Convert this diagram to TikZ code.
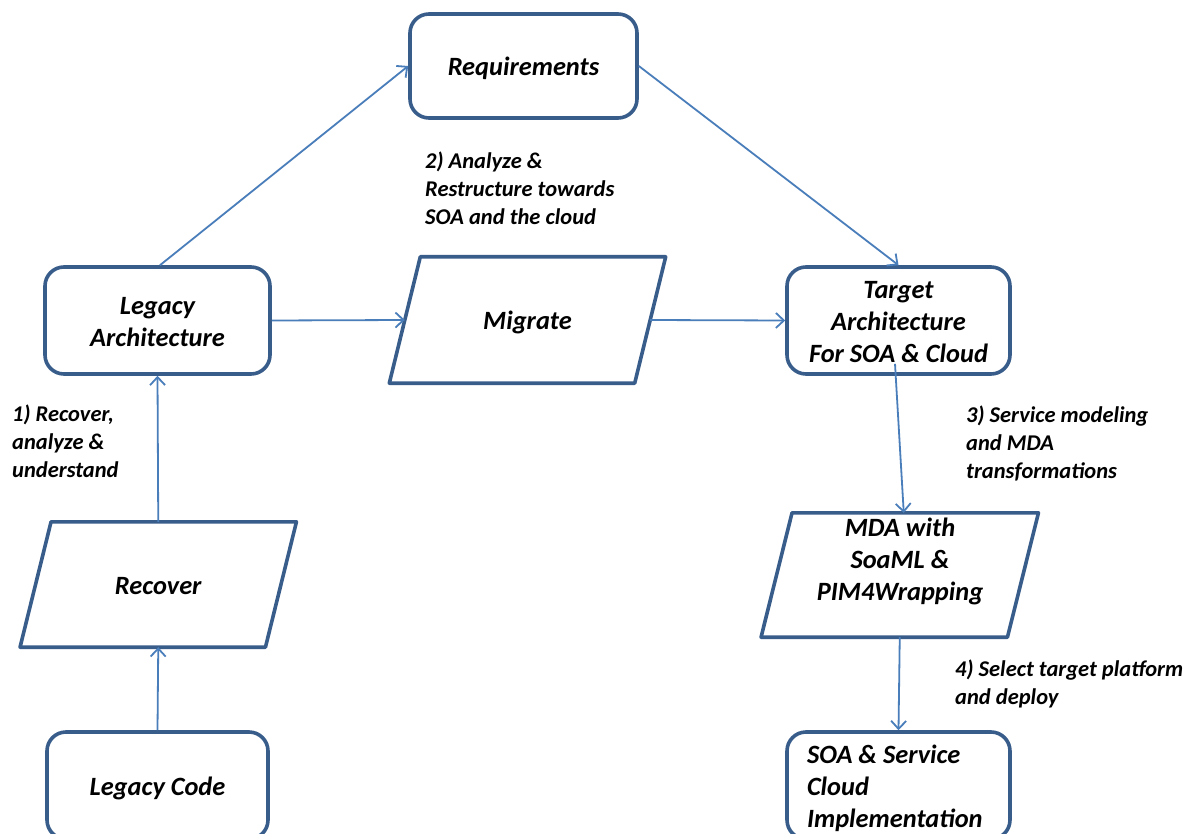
\documentclass[tikz,border=0pt]{standalone}
\usepackage{fontspec}
\setmainfont{Carlito}
\usetikzlibrary{arrows.meta,calc}
\definecolor{boxline}{RGB}{56,93,138}
\definecolor{flowline}{RGB}{74,126,187}
\newcommand\diagboxfont{\fontsize{26.4}{32}\selectfont\bfseries\itshape}
\newcommand\diagnotefont{\fontsize{22.5}{28}\selectfont\bfseries\itshape}
% fixed struts on the first and last line, so every box sets its text on the same grid
\newcommand\firststrut{\rule{0pt}{24pt}}
\newcommand\laststrut{\rule[-5pt]{0pt}{5pt}}
\begin{document}
\begin{tikzpicture}[x=1pt,y=-1pt,
  roundbox/.style={draw=boxline, line width=3.6pt, rounded corners=19pt,
    fill=white, align=center, font=\diagboxfont, inner sep=0pt,
    minimum width=224pt, minimum height=107pt},
  slantbox/.style={align=center, font=\diagboxfont, inner sep=0pt,
    minimum width=245pt, minimum height=125pt},
  slantframe/.style={draw=boxline, line width=3.6pt, line join=round},
  flow/.style={draw=flowline, line width=1.8pt,
    -{Straight Barb[length=8pt,width=15pt]}},
  note/.style={align=left, font=\diagnotefont, anchor=west, inner sep=0pt}]

% canvas
\clip (0,0) rectangle (1193,834);
\fill[white] (0,0) rectangle (1193,834);

% rounded boxes
\node[roundbox, minimum width=227pt, minimum height=104pt] (req) at (523.5,66)
  {\firststrut Requirements\laststrut};
\node[roundbox, minimum width=225pt] (larch) at (157.5,320.5)
  {\firststrut Legacy\\Architecture\laststrut};
\node[roundbox, minimum width=223pt] (tgt) at (898.5,320.5)
  {\firststrut Target\\Architecture\\For SOA \& Cloud\laststrut};
\node[roundbox, minimum width=221pt] (lcode) at (157.5,785.5)
  {\firststrut Legacy Code\laststrut};
\node[roundbox, minimum width=223pt, text width=183pt, align=flush left] (soa) at (898.5,785.5)
  {\firststrut SOA \& Service\\Cloud\\Implementation\laststrut};

% slanted boxes
\node[slantbox, minimum height=126pt] (mig) at (527.5,320) {\firststrut Migrate\laststrut};
\node[slantbox] (rec) at (158.25,584.5) {\firststrut Recover\laststrut};
\node[slantbox, minimum width=246pt, minimum height=124pt] (mda) at (899.75,575) {};
\node[align=center, font=\diagboxfont, inner sep=0pt] (mdatext) at (900,561.5)
  {MDA with\\SoaML \&\\PIM4Wrapping};

\foreach \n in {mig,rec,mda}{
  \draw[slantframe] ($(\n.north west)+(15.5,0)$) -- ($(\n.north east)+(15.5,0)$)
    -- ($(\n.south east)+(-15.5,0)$) -- ($(\n.south west)+(-15.5,0)$) -- cycle;
}

% step labels
\node[note] (n1) at (12,441) {1) Recover,\\analyze \&\\understand};
\node[note] (n2) at (425,188.5) {2) Analyze \&\\Restructure towards\\SOA and the cloud};
\node[note] (n3) at (966,443) {3) Service modeling\\and MDA\\transformations};
\node[note] (n4) at (955,684) {4) Select target platform\\and deploy};

% connectors
\coordinate (tgtout) at ($(tgt.south)+(-3.5,-12)$);
\coordinate (mdain) at ($(mda.north)+(4,0)$);
\draw[flow] (lcode.north) -- (rec.south);
\draw[flow] (rec.north) -- (larch.south);
\draw[flow] ($(larch.north)+(2.5,0)$) -- (req.west);
\draw[flow] (larch.east) -- (mig.west);
\draw[flow] (mig.east) -- (tgt.west);
\draw[flow] (req.east) -- (tgt.north);
\draw[flow] (tgtout) -- (mdain);
\draw[flow] (mda.south) -- (soa.north);
\end{tikzpicture}
\end{document}
